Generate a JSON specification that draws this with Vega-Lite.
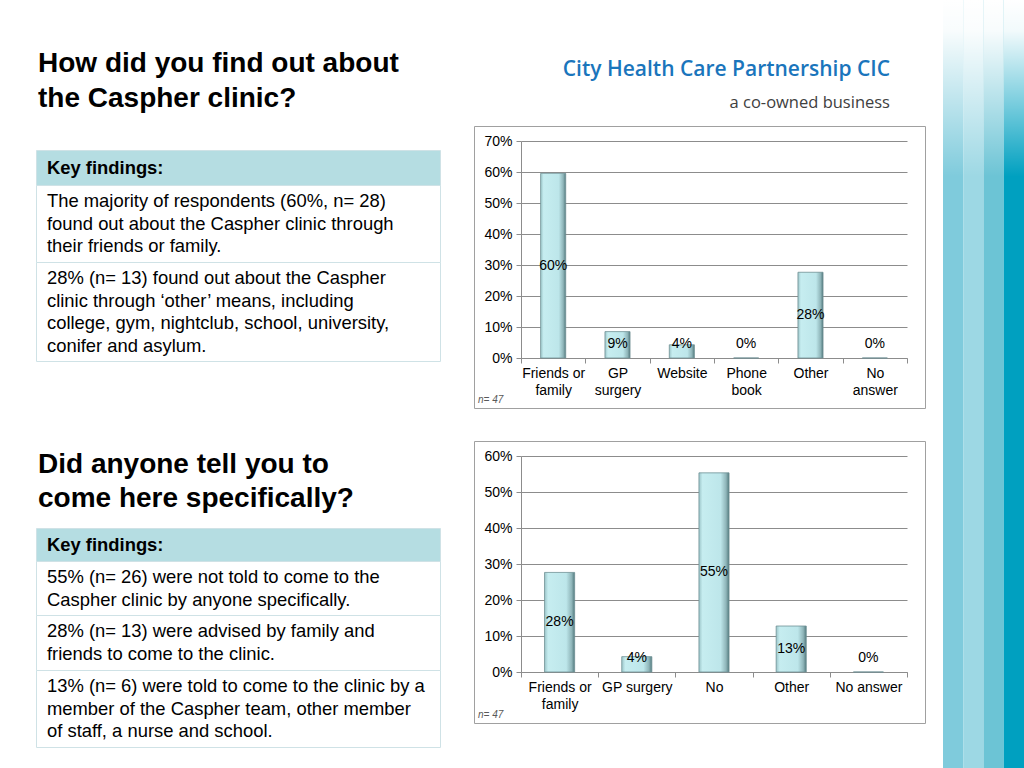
{
  "$schema": "https://vega.github.io/schema/vega-lite/v6.json",
  "background": "#ffffff",
  "padding": {"left": 35, "top": 0, "right": 0, "bottom": 0},
  "autosize": {"type": "pad"},
  "config": {
    "view": {"stroke": null},
    "font": "Liberation Sans",
    "text": {"font": "Liberation Sans"},
    "title": {"font": "Liberation Sans"},
    "axis": {"labelFont": "Liberation Sans"}
  },
  "datasets": {
    "lines": [
      {"block": "title1", "line": 1, "text": "How did you find out about"},
      {"block": "title1", "line": 2, "text": "the Caspher clinic?"},
      {"block": "h1", "line": 1, "text": "Key findings:"},
      {"block": "c1a", "line": 1, "text": "The majority of respondents (60%, n= 28)"},
      {"block": "c1a", "line": 2, "text": "found out about the Caspher clinic through"},
      {"block": "c1a", "line": 3, "text": "their friends or family."},
      {"block": "c1b", "line": 1, "text": "28% (n= 13) found out about the Caspher"},
      {"block": "c1b", "line": 2, "text": "clinic through ‘other’ means, including"},
      {"block": "c1b", "line": 3, "text": "college, gym, nightclub, school, university,"},
      {"block": "c1b", "line": 4, "text": "conifer and asylum."},
      {"block": "title2", "line": 1, "text": "Did anyone tell you to"},
      {"block": "title2", "line": 2, "text": "come here specifically?"},
      {"block": "h2", "line": 1, "text": "Key findings:"},
      {"block": "c2a", "line": 1, "text": "55% (n= 26) were not told to come to the"},
      {"block": "c2a", "line": 2, "text": "Caspher clinic by anyone specifically."},
      {"block": "c2b", "line": 1, "text": "28% (n= 13) were advised by family and"},
      {"block": "c2b", "line": 2, "text": "friends to come to the clinic."},
      {"block": "c2c", "line": 1, "text": "13% (n= 6) were told to come to the clinic by a"},
      {"block": "c2c", "line": 2, "text": "member of the Caspher team, other member"},
      {"block": "c2c", "line": 3, "text": "of staff, a nurse and school."},
      {"block": "logo", "line": 1, "text": "City Health Care Partnership CIC"},
      {"block": "logo", "line": 2, "text": "a co-owned business"}
    ],
    "found": [
      {"category": "Friends or family", "share": 0.5957},
      {"category": "GP surgery", "share": 0.0851},
      {"category": "Website", "share": 0.0426},
      {"category": "Phone book", "share": 0},
      {"category": "Other", "share": 0.2766},
      {"category": "No answer", "share": 0}
    ],
    "told": [
      {"category": "Friends or family", "share": 0.2766},
      {"category": "GP surgery", "share": 0.0426},
      {"category": "No", "share": 0.5532},
      {"category": "Other", "share": 0.1277},
      {"category": "No answer", "share": 0}
    ],
    "stripes": [
      {"stripe": "pale teal"},
      {"stripe": "light teal"},
      {"stripe": "mid teal"},
      {"stripe": "deep teal"}
    ]
  },
  "spacing": 32,
  "hconcat": [
    {
      "spacing": -2,
      "vconcat": [
        {
          "width": 404, "height": 150,
          "data": {"name": "lines"},
          "transform": [{"filter": "datum.block === 'title1'"}],
          "mark": {"type": "text", "align": "left", "baseline": "middle", "fontSize": 28, "fontWeight": "bold", "color": "#000000", "dx": 2},
          "encoding": {
            "x": {"datum": 0, "type": "quantitative", "scale": {"domain": [0, 1]}, "axis": null},
            "y": {"field": "line", "type": "quantitative", "scale": {"domain": [-0.829, 3.457], "reverse": true, "nice": false, "zero": false}, "axis": null},
            "text": {"field": "text", "type": "nominal"}
          }
        },
        {
          "bounds": "flush",
          "spacing": 0,
          "vconcat": [
            {
              "width": 404, "height": 35,
              "view": {"stroke": "#cfe2e6", "fill": "#b5dde2"},
              "data": {"name": "lines"},
              "transform": [{"filter": "datum.block === 'h1'"}],
              "mark": {"type": "text", "align": "left", "baseline": "middle", "fontSize": 18.4, "fontWeight": "bold", "color": "#000000", "dx": 11},
              "encoding": {
                "x": {"datum": 0, "type": "quantitative", "scale": {"domain": [0, 1]}, "axis": null},
                "y": {"field": "line", "type": "quantitative", "scale": {"domain": [0.5, 1.5], "reverse": true, "nice": false, "zero": false}, "axis": null},
                "text": {"field": "text", "type": "nominal"}
              }
            },
            {
              "width": 404, "height": 77,
              "view": {"stroke": "#cfe2e6", "fill": "#ffffff"},
              "data": {"name": "lines"},
              "transform": [{"filter": "datum.block === 'c1a'"}],
              "mark": {"type": "text", "align": "left", "baseline": "middle", "fontSize": 18.4, "color": "#000000", "dx": 11},
              "encoding": {
                "x": {"datum": 0, "type": "quantitative", "scale": {"domain": [0, 1]}, "axis": null},
                "y": {"field": "line", "type": "quantitative", "scale": {"domain": [0.267, 3.689], "reverse": true, "nice": false, "zero": false}, "axis": null},
                "text": {"field": "text", "type": "nominal"}
              }
            },
            {
              "width": 404, "height": 99,
              "view": {"stroke": "#cfe2e6", "fill": "#ffffff"},
              "data": {"name": "lines"},
              "transform": [{"filter": "datum.block === 'c1b'"}],
              "mark": {"type": "text", "align": "left", "baseline": "middle", "fontSize": 18.4, "color": "#000000", "dx": 11},
              "encoding": {
                "x": {"datum": 0, "type": "quantitative", "scale": {"domain": [0, 1]}, "axis": null},
                "y": {"field": "line", "type": "quantitative", "scale": {"domain": [0.267, 4.667], "reverse": true, "nice": false, "zero": false}, "axis": null},
                "text": {"field": "text", "type": "nominal"}
              }
            }
          ]
        },
        {
          "width": 404, "height": 166,
          "data": {"name": "lines"},
          "transform": [{"filter": "datum.block === 'title2'"}],
          "mark": {"type": "text", "align": "left", "baseline": "middle", "fontSize": 28, "fontWeight": "bold", "color": "#000000", "dx": 2},
          "encoding": {
            "x": {"datum": 0, "type": "quantitative", "scale": {"domain": [0, 1]}, "axis": null},
            "y": {"field": "line", "type": "quantitative", "scale": {"domain": [-2.029, 2.853], "reverse": true, "nice": false, "zero": false}, "axis": null},
            "text": {"field": "text", "type": "nominal"}
          }
        },
        {
          "bounds": "flush",
          "spacing": 0,
          "vconcat": [
            {
              "width": 404, "height": 33,
              "view": {"stroke": "#cfe2e6", "fill": "#b5dde2"},
              "data": {"name": "lines"},
              "transform": [{"filter": "datum.block === 'h2'"}],
              "mark": {"type": "text", "align": "left", "baseline": "middle", "fontSize": 18.4, "fontWeight": "bold", "color": "#000000", "dx": 11},
              "encoding": {
                "x": {"datum": 0, "type": "quantitative", "scale": {"domain": [0, 1]}, "axis": null},
                "y": {"field": "line", "type": "quantitative", "scale": {"domain": [0.5, 1.5], "reverse": true, "nice": false, "zero": false}, "axis": null},
                "text": {"field": "text", "type": "nominal"}
              }
            },
            {
              "width": 404, "height": 54,
              "view": {"stroke": "#cfe2e6", "fill": "#ffffff"},
              "data": {"name": "lines"},
              "transform": [{"filter": "datum.block === 'c2a'"}],
              "mark": {"type": "text", "align": "left", "baseline": "middle", "fontSize": 18.4, "color": "#000000", "dx": 11},
              "encoding": {
                "x": {"datum": 0, "type": "quantitative", "scale": {"domain": [0, 1]}, "axis": null},
                "y": {"field": "line", "type": "quantitative", "scale": {"domain": [0.267, 2.667], "reverse": true, "nice": false, "zero": false}, "axis": null},
                "text": {"field": "text", "type": "nominal"}
              }
            },
            {
              "width": 404, "height": 55,
              "view": {"stroke": "#cfe2e6", "fill": "#ffffff"},
              "data": {"name": "lines"},
              "transform": [{"filter": "datum.block === 'c2b'"}],
              "mark": {"type": "text", "align": "left", "baseline": "middle", "fontSize": 18.4, "color": "#000000", "dx": 11},
              "encoding": {
                "x": {"datum": 0, "type": "quantitative", "scale": {"domain": [0, 1]}, "axis": null},
                "y": {"field": "line", "type": "quantitative", "scale": {"domain": [0.267, 2.711], "reverse": true, "nice": false, "zero": false}, "axis": null},
                "text": {"field": "text", "type": "nominal"}
              }
            },
            {
              "width": 404, "height": 77,
              "view": {"stroke": "#cfe2e6", "fill": "#ffffff"},
              "data": {"name": "lines"},
              "transform": [{"filter": "datum.block === 'c2c'"}],
              "mark": {"type": "text", "align": "left", "baseline": "middle", "fontSize": 18.4, "color": "#000000", "dx": 11},
              "encoding": {
                "x": {"datum": 0, "type": "quantitative", "scale": {"domain": [0, 1]}, "axis": null},
                "y": {"field": "line", "type": "quantitative", "scale": {"domain": [0.267, 3.689], "reverse": true, "nice": false, "zero": false}, "axis": null},
                "text": {"field": "text", "type": "nominal"}
              }
            }
          ]
        }
      ]
    },
    {
      "spacing": 17,
      "hconcat": [
        {
          "spacing": -1.5,
          "vconcat": [
            {
              "width": 451, "height": 126,
              "data": {"name": "lines"},
              "transform": [{"filter": "datum.block === 'logo'"}],
              "encoding": {
                "x": {"datum": 1, "type": "quantitative", "scale": {"domain": [0, 1]}, "axis": null},
                "y": {"field": "line", "type": "quantitative", "scale": {"domain": [-1.121, 2.697], "reverse": true, "nice": false, "zero": false}, "axis": null},
                "text": {"field": "text", "type": "nominal"}
              },
              "layer": [
                {
                  "transform": [{"filter": "datum.line === 1"}],
                  "mark": {"type": "text", "align": "right", "baseline": "middle", "dx": -35, "font": "Open Sans", "fontSize": 21, "fontWeight": 600, "color": "#1a75bc"}
                },
                {
                  "transform": [{"filter": "datum.line === 2"}],
                  "mark": {"type": "text", "align": "right", "baseline": "middle", "dx": -35, "font": "Open Sans", "fontSize": 16.5, "color": "#404040"}
                }
              ]
            },
            {
              "bounds": "flush",
              "spacing": 33,
              "vconcat": [
                {
                  "width": 451, "height": 282,
                  "view": {"stroke": "#a0a0a0", "fill": "#ffffff"},
                  "title": {"text": "n= 47", "orient": "bottom", "anchor": "start", "frame": "group", "offset": -13, "dx": 4, "fontSize": 10, "fontStyle": "italic", "fontWeight": "normal", "color": "#595959"},
                  "data": {"name": "found"},
                  "encoding": {
                    "x": {
                      "field": "category", "type": "nominal", "sort": null,
                      "scale": {"range": [47, 433], "paddingInner": 0, "paddingOuter": 0},
                      "axis": {
                        "orient": "bottom", "offset": -50, "title": null, "labelAngle": 0,
                        "labelFontSize": 14, "labelColor": "#000000", "labelPadding": 3, "labelLineHeight": 17, "labelBaseline": "top",
                        "tickSize": 5, "tickBand": "extent", "tickColor": "#8c8c8c", "domainColor": "#8c8c8c", "grid": false,
                        "labelExpr": "datum.value === 'Friends or family' ? ['Friends or', 'family'] : datum.value === 'GP surgery' ? ['GP', 'surgery'] : datum.value === 'Phone book' ? ['Phone', 'book'] : datum.value === 'No answer' ? ['No', 'answer'] : datum.value"
                      }
                    }
                  },
                  "resolve": {"scale": {"y": "independent"}},
                  "layer": [
                    {
                      "mark": {
                        "type": "bar", "width": {"band": 0.39}, "stroke": "#6f9094", "strokeWidth": 0.8,
                        "fill": {"gradient": "linear", "x1": 0, "y1": 0, "x2": 1, "y2": 0, "stops": [
                          {"offset": 0, "color": "#9cc5c9"},
                          {"offset": 0.12, "color": "#c6edf0"},
                          {"offset": 0.72, "color": "#bde6ea"},
                          {"offset": 0.9, "color": "#8fb5b9"},
                          {"offset": 1, "color": "#527a7e"}
                        ]}
                      },
                      "encoding": {
                        "y": {
                          "field": "share", "type": "quantitative",
                          "scale": {"domain": [0, 0.7], "range": [232, 15], "nice": false},
                          "axis": {
                            "orient": "left", "offset": -47, "title": null, "format": ".0%",
                            "values": [0, 0.1, 0.2, 0.3, 0.4, 0.5, 0.6, 0.7],
                            "grid": true, "gridColor": "#8c8c8c", "domainColor": "#8c8c8c", "tickColor": "#8c8c8c",
                            "tickSize": 5, "labelFontSize": 14, "labelColor": "#000000", "labelPadding": 4
                          }
                        }
                      }
                    },
                    {
                      "mark": {"type": "text", "fontSize": 14, "baseline": "middle", "color": "#000000"},
                      "encoding": {
                        "y": {"field": "share", "type": "quantitative", "scale": {"domain": [0, 0.0903, 0.7], "range": [218, 218, 123.5], "nice": false, "zero": false, "clamp": false}, "axis": null},
                        "text": {"field": "share", "type": "quantitative", "format": ".0%"}
                      }
                    }
                  ]
                },
                {
                  "width": 451, "height": 282,
                  "view": {"stroke": "#a0a0a0", "fill": "#ffffff"},
                  "title": {"text": "n= 47", "orient": "bottom", "anchor": "start", "frame": "group", "offset": -13, "dx": 4, "fontSize": 10, "fontStyle": "italic", "fontWeight": "normal", "color": "#595959"},
                  "data": {"name": "told"},
                  "encoding": {
                    "x": {
                      "field": "category", "type": "nominal", "sort": null,
                      "scale": {"range": [47, 433], "paddingInner": 0, "paddingOuter": 0},
                      "axis": {
                        "orient": "bottom", "offset": -51, "title": null, "labelAngle": 0,
                        "labelFontSize": 14, "labelColor": "#000000", "labelPadding": 3, "labelLineHeight": 17, "labelBaseline": "top",
                        "tickSize": 5, "tickBand": "extent", "tickColor": "#8c8c8c", "domainColor": "#8c8c8c", "grid": false,
                        "labelExpr": "datum.value === 'Friends or family' ? ['Friends or', 'family'] : datum.value"
                      }
                    }
                  },
                  "resolve": {"scale": {"y": "independent"}},
                  "layer": [
                    {
                      "mark": {
                        "type": "bar", "width": {"band": 0.39}, "stroke": "#6f9094", "strokeWidth": 0.8,
                        "fill": {"gradient": "linear", "x1": 0, "y1": 0, "x2": 1, "y2": 0, "stops": [
                          {"offset": 0, "color": "#9cc5c9"},
                          {"offset": 0.12, "color": "#c6edf0"},
                          {"offset": 0.72, "color": "#bde6ea"},
                          {"offset": 0.9, "color": "#8fb5b9"},
                          {"offset": 1, "color": "#527a7e"}
                        ]}
                      },
                      "encoding": {
                        "y": {
                          "field": "share", "type": "quantitative",
                          "scale": {"domain": [0, 0.6], "range": [231, 15], "nice": false},
                          "axis": {
                            "orient": "left", "offset": -47, "title": null, "format": ".0%",
                            "values": [0, 0.1, 0.2, 0.3, 0.4, 0.5, 0.6],
                            "grid": true, "gridColor": "#8c8c8c", "domainColor": "#8c8c8c", "tickColor": "#8c8c8c",
                            "tickSize": 5, "labelFontSize": 14, "labelColor": "#000000", "labelPadding": 4
                          }
                        }
                      }
                    },
                    {
                      "mark": {"type": "text", "fontSize": 14, "baseline": "middle", "color": "#000000"},
                      "encoding": {
                        "y": {"field": "share", "type": "quantitative", "scale": {"domain": [0, 0.0778, 0.6], "range": [217, 217, 123], "nice": false, "zero": false, "clamp": false}, "axis": null},
                        "text": {"field": "share", "type": "quantitative", "format": ".0%"}
                      }
                    }
                  ]
                }
              ]
            }
          ]
        },
        {
          "width": 81, "height": 768,
          "data": {"name": "stripes"},
          "encoding": {
            "x": {"field": "stripe", "type": "nominal", "sort": null, "axis": null, "scale": {"paddingInner": 0, "paddingOuter": 0}}
          },
          "layer": [
            {
              "mark": {"type": "rect"},
              "encoding": {
                "color": {"field": "stripe", "type": "nominal", "sort": null, "legend": null, "scale": {"range": ["#7fcbdc", "#9dd8e4", "#6cc4d5", "#00a0c0"]}}
              }
            },
            {
              "mark": {
                "type": "rect",
                "fill": {"gradient": "linear", "x1": 0, "y1": 0, "x2": 0, "y2": 1, "stops": [
                  {"offset": 0, "color": "rgba(255,255,255,1)"},
                  {"offset": 0.04, "color": "rgba(255,255,255,0.95)"},
                  {"offset": 0.23, "color": "rgba(255,255,255,0)"},
                  {"offset": 1, "color": "rgba(255,255,255,0)"}
                ]}
              }
            }
          ]
        }
      ]
    }
  ]
}
